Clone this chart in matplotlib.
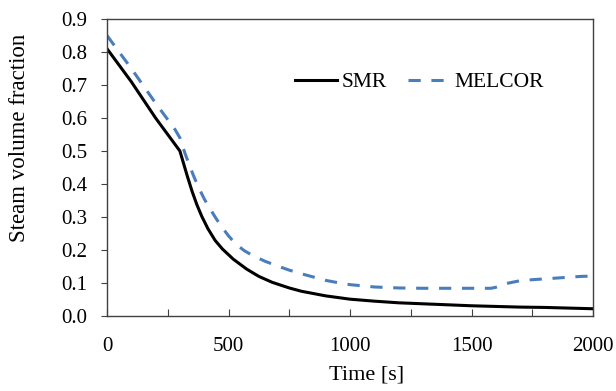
import numpy as np
from matplotlib import pyplot as plt

# SMR calculation
t_smr = [0, 50, 100, 150, 200, 250, 300, 310, 330, 350, 370, 390, 415, 445, 475,
         520, 575, 625, 680, 750, 800, 900, 1000, 1100, 1200, 1300, 1400, 1500,
         1600, 1700, 1800, 1900, 2000]
smr = [0.81, 0.76, 0.71, 0.655, 0.60, 0.55, 0.50, 0.475, 0.425, 0.378, 0.337, 0.302,
       0.265, 0.229, 0.203, 0.172, 0.142, 0.12, 0.102, 0.085, 0.075, 0.061, 0.051,
       0.045, 0.040, 0.037, 0.034, 0.031, 0.029, 0.027, 0.026, 0.024, 0.022]

# MELCOR calculation
t_mel = [0, 100, 200, 280, 300, 320, 340, 360, 380, 400, 420, 445, 470, 500, 530,
         565, 600, 650, 700, 750, 800, 850, 900, 950, 1000, 1100, 1200, 1300, 1400,
         1500, 1580, 1600, 1640, 1700, 1750, 1850, 1950, 2000]
melcor = [0.85, 0.75, 0.645, 0.565, 0.54, 0.495, 0.455, 0.418, 0.385, 0.355, 0.33,
          0.30, 0.272, 0.243, 0.218, 0.198, 0.183, 0.166, 0.152, 0.139, 0.128, 0.118,
          0.108, 0.101, 0.095, 0.088, 0.085, 0.084, 0.084, 0.084, 0.084, 0.087,
          0.098, 0.107, 0.110, 0.115, 0.12, 0.121]

plt.rcParams['font.family'] = 'Liberation Serif'

fig = plt.figure(figsize=(6.16, 3.91), dpi=100)
ax = fig.add_axes([0.1737, 0.1918, 0.789, 0.7596])

ax.plot(t_smr, smr, 'k-', linewidth=2.2, label='SMR')
ax.plot(t_mel, melcor, color='#4a7ebb', linestyle='--', dashes=(4, 3.5),
        linewidth=2.2, label='MELCOR')

ax.set_xlim(0, 2000)
ax.set_ylim(0, 0.9)
ax.set_xticks(np.arange(0, 2001, 250))
ax.set_xticklabels([str(v) if v % 500 == 0 else '' for v in range(0, 2001, 250)])
ax.set_yticks(np.arange(0, 0.91, 0.1))
ax.set_yticklabels(['{:.1f}'.format(v) for v in np.arange(0, 0.91, 0.1)])
ax.tick_params(axis='x', direction='in', length=5, labelsize=15, pad=15, color='#404040')
ax.tick_params(axis='y', direction='out', length=4, labelsize=15, pad=10, color='#404040')
for s in ax.spines.values():
    s.set_color('#404040')
    s.set_linewidth(1.0)

ax.set_xlabel('Time [s]', fontsize=16)
ax.xaxis.set_label_coords(0.535, -0.168)
ax.set_ylabel('Steam volume fraction', fontsize=16.5)
ax.yaxis.set_label_coords(-0.158, 0.601)

ax.legend(loc='center left', bbox_to_anchor=(0.3868, 0.787), ncol=2, frameon=False,
          fontsize=15.5, handlelength=1.95, handletextpad=0.2, columnspacing=1.0,
          borderaxespad=0, borderpad=0)

plt.savefig('out.png', dpi=100)
